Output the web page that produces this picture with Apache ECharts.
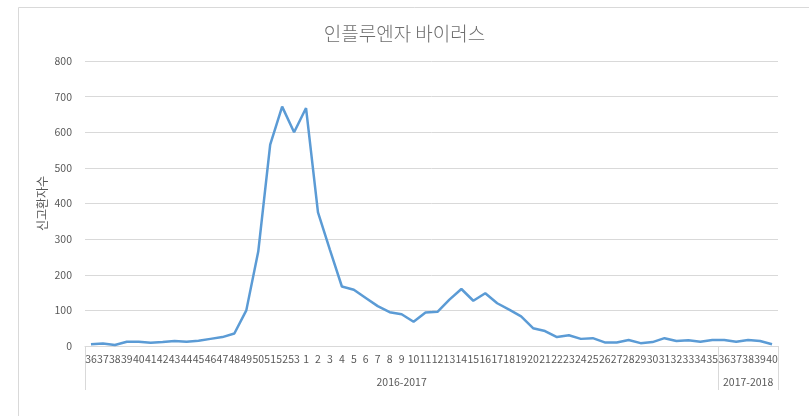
<!DOCTYPE html>
<html><head><meta charset="utf-8">
<script src="https://cdn.jsdelivr.net/npm/echarts@6/dist/echarts.min.js"></script>
<style>html,body{margin:0;padding:0;background:#fff}#c{width:809px;height:416px}</style>
</head><body><div id="c"></div>
<script>
const weeks = ['36','37','38','39','40','41','42','43','44','45','46','47','48','49','50','51','52','53',
  '1','2','3','4','5','6','7','8','9','10','11','12','13','14','15','16','17','18','19','20','21','22','23','24','25','26','27','28','29','30','31','32','33','34','35',
  '36','37','38','39','40'];
const values = [5,7,3,12,12,9,11,14,12,15,20,25,35,100,265,565,672,600,
  668,375,270,167,158,135,112,95,89,68,94,96,130,160,127,148,120,102,83,50,42,25,30,20,22,10,10,17,8,11,22,14,16,12,17,
  17,12,17,14,5];
const seasons = ['2016-2017','2017-2018'];
const seasonBounds = [0,53,58];
const yTicks = {min:0,max:800,interval:100};
const title = '인플루엔자 바이러스';
const yName = '신고환자수';

const FONT = "'Noto Sans CJK KR', 'Liberation Sans', sans-serif";
const GRAY = '#595959';
const chart = echarts.init(document.getElementById('c'));
const mids = seasons.map((s,i)=>(seasonBounds[i]+seasonBounds[i+1])/2);
chart.setOption({
  backgroundColor:'#fff',
  animation:false,
  textStyle:{fontFamily:FONT},
  title:{text:title,left:'center',top:19,textStyle:{fontFamily:FONT,fontSize:19,fontWeight:300,color:'#6e6e6e'}},
  graphic:[{type:'rect',shape:{x:18.5,y:7.5,width:820,height:430},style:{fill:'none',stroke:'#d9d9d9',lineWidth:1},silent:true,z:-1}],
  grid:{left:85,right:31,top:61,bottom:70},
  xAxis:[{
    type:'category',data:weeks,boundaryGap:true,
    axisLine:{lineStyle:{color:'#d9d9d9'}},
    axisTick:{show:false},
    axisLabel:{interval:0,color:GRAY,fontSize:10.5,fontFamily:FONT,margin:8}
  },{
    type:'value',min:0,max:58,position:'bottom',
    axisLine:{show:false},splitLine:{show:false},
    axisTick:{show:true,customValues:seasonBounds,length:44,lineStyle:{color:'#d9d9d9'}},
    axisLabel:{customValues:mids,color:GRAY,fontSize:10.5,fontFamily:FONT,margin:31,
      formatter:function(v){const i=mids.indexOf(v);return i>=0?seasons[i]:'';}}
  }],
  yAxis:{
    type:'value',min:yTicks.min,max:yTicks.max,interval:yTicks.interval,
    name:yName,nameLocation:'middle',nameGap:37,nameRotate:90,nameMoveOverlap:false,
    nameTextStyle:{color:GRAY,fontSize:12,fontFamily:FONT},
    axisLine:{show:false},axisTick:{show:false},
    axisLabel:{color:GRAY,fontSize:10.5,fontFamily:FONT,margin:13},
    splitLine:{lineStyle:{color:'#d9d9d9'}}
  },
  series:[{type:'line',data:values,xAxisIndex:0,showSymbol:false,symbol:'none',
    lineStyle:{color:'#5b9bd5',width:2.5},itemStyle:{color:'#5b9bd5'}}]
});
</script></body></html>
